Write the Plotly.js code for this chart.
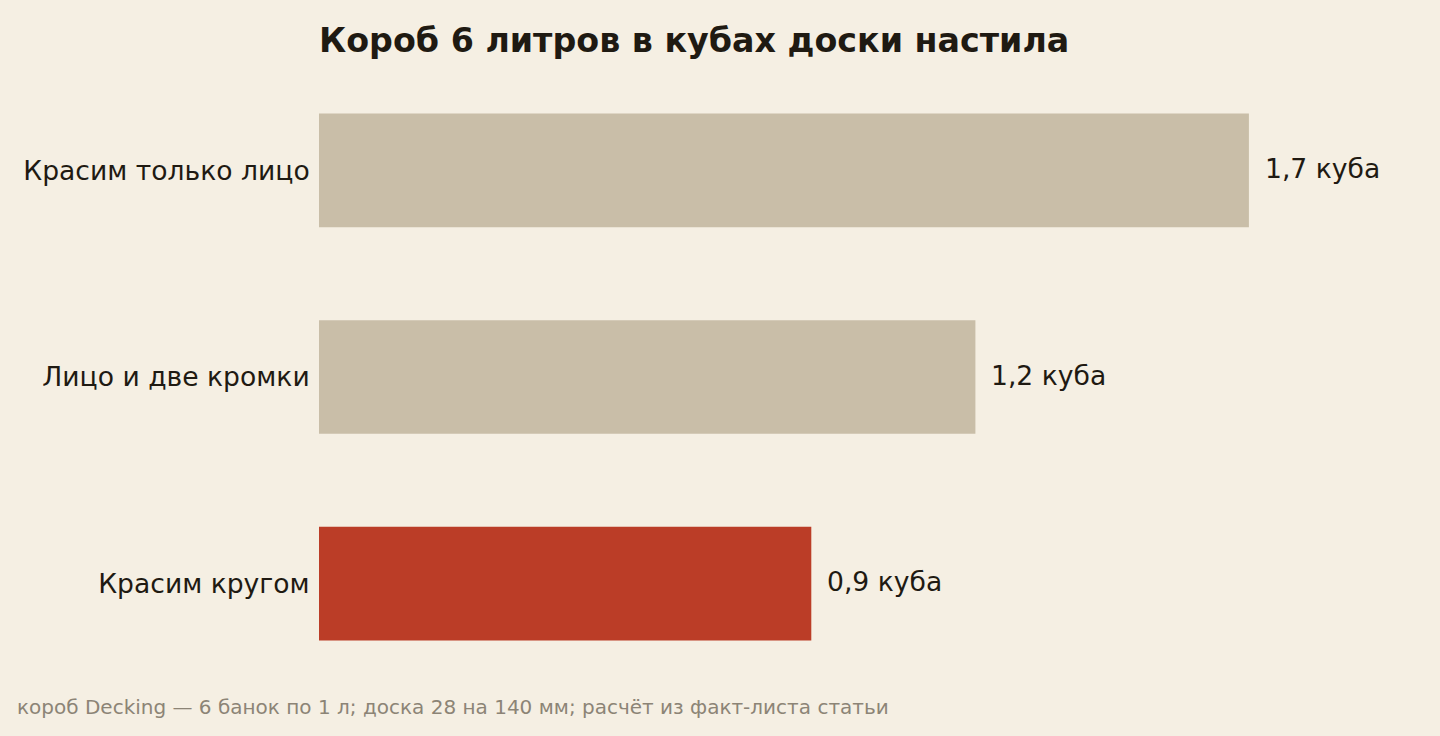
<!DOCTYPE html>
<html>
<head>
<meta charset="utf-8">
<script src="https://cdn.plot.ly/plotly-3.0.1.min.js"></script>
<style>
  html, body { margin: 0; padding: 0; background: #F5EFE3; }
  #chart { width: 1440px; height: 736px; }
</style>
</head>
<body>
<div id="chart"></div>
<script>
(function () {
  'use strict';

  /* ── Data ── */
  var categories = ['Красим только лицо', 'Лицо и две кромки', 'Красим кругом'];
  var volumes    = [1.7, 1.2, 0.9];
  var valueLabels = ['1,7 куба', '1,2 куба', '0,9 куба'];
  var barColors  = ['#C9BEA8', '#C9BEA8', '#BB3D27'];

  var TITLE = 'Короб 6 литров в кубах доски настила';
  var NOTE  = 'короб Decking — 6 банок по 1 л; доска 28 на 140 мм; расчёт из факт-листа статьи';

  /* ── Palette ── */
  var C = {
    bg:   '#F5EFE3',
    ink:  '#1F1A12',
    note: '#8C8476',
  };
  var FONT = 'DejaVu Sans, sans-serif';

  /* ── Value labels right of bars ── */
  var ann = categories.map(function (c, i) {
    return {
      x: volumes[i], y: c, xref: 'x', yref: 'y',
      text: valueLabels[i],
      showarrow: false, xanchor: 'left', yanchor: 'middle',
      xshift: 14, yshift: 2,
      font: { size: 26.6, color: C.ink, family: FONT },
    };
  });

  /* Footnote */
  ann.push({
    x: 15, y: 708, xref: 'paper', yref: 'paper',
    text: NOTE,
    showarrow: false, xanchor: 'left', yanchor: 'middle',
    font: { size: 20, color: C.note, family: FONT },
  });

  var traces = [{
    type: 'bar',
    orientation: 'h',
    y: categories,
    x: volumes,
    marker: { color: barColors, line: { width: 0 } },
    hoverinfo: 'none',
    showlegend: false,
  }];

  var W = 1440, H = 736;
  var m = { l: 319, r: 27, t: 66.5, b: 48.5 };

  // footnote given in pixels -> convert to paper coords
  var pw = W - m.l - m.r, ph = H - m.t - m.b;
  var note = ann[ann.length - 1];
  note.x = (note.x - m.l) / pw;
  note.y = (H - m.b - note.y) / ph;

  var layout = {
    width: W, height: H,
    margin: m,
    paper_bgcolor: C.bg,
    plot_bgcolor: C.bg,
    font: { family: FONT, color: C.ink },
    title: {
      text: '<b>' + TITLE + '</b>',
      x: m.l / W, xref: 'container', xanchor: 'left',
      y: 1 - 40 / H, yref: 'container', yanchor: 'middle',
      font: { size: 33.3, color: C.ink, family: FONT },
    },
    bargap: 0.45,
    xaxis: {
      range: [0, 2.0],
      visible: false,
      showgrid: false, zeroline: false, fixedrange: true,
    },
    yaxis: {
      autorange: 'reversed',
      showgrid: false, zeroline: false, showline: false,
      ticks: 'outside', ticklen: 3, tickcolor: 'rgba(0,0,0,0)',
      tickfont: { size: 26.6, color: C.ink, family: FONT },
      fixedrange: true,
    },
    annotations: ann,
    showlegend: false,
  };

  Plotly.newPlot('chart', traces, layout, { displayModeBar: false, staticPlot: true });
})();
</script>
</body>
</html>
